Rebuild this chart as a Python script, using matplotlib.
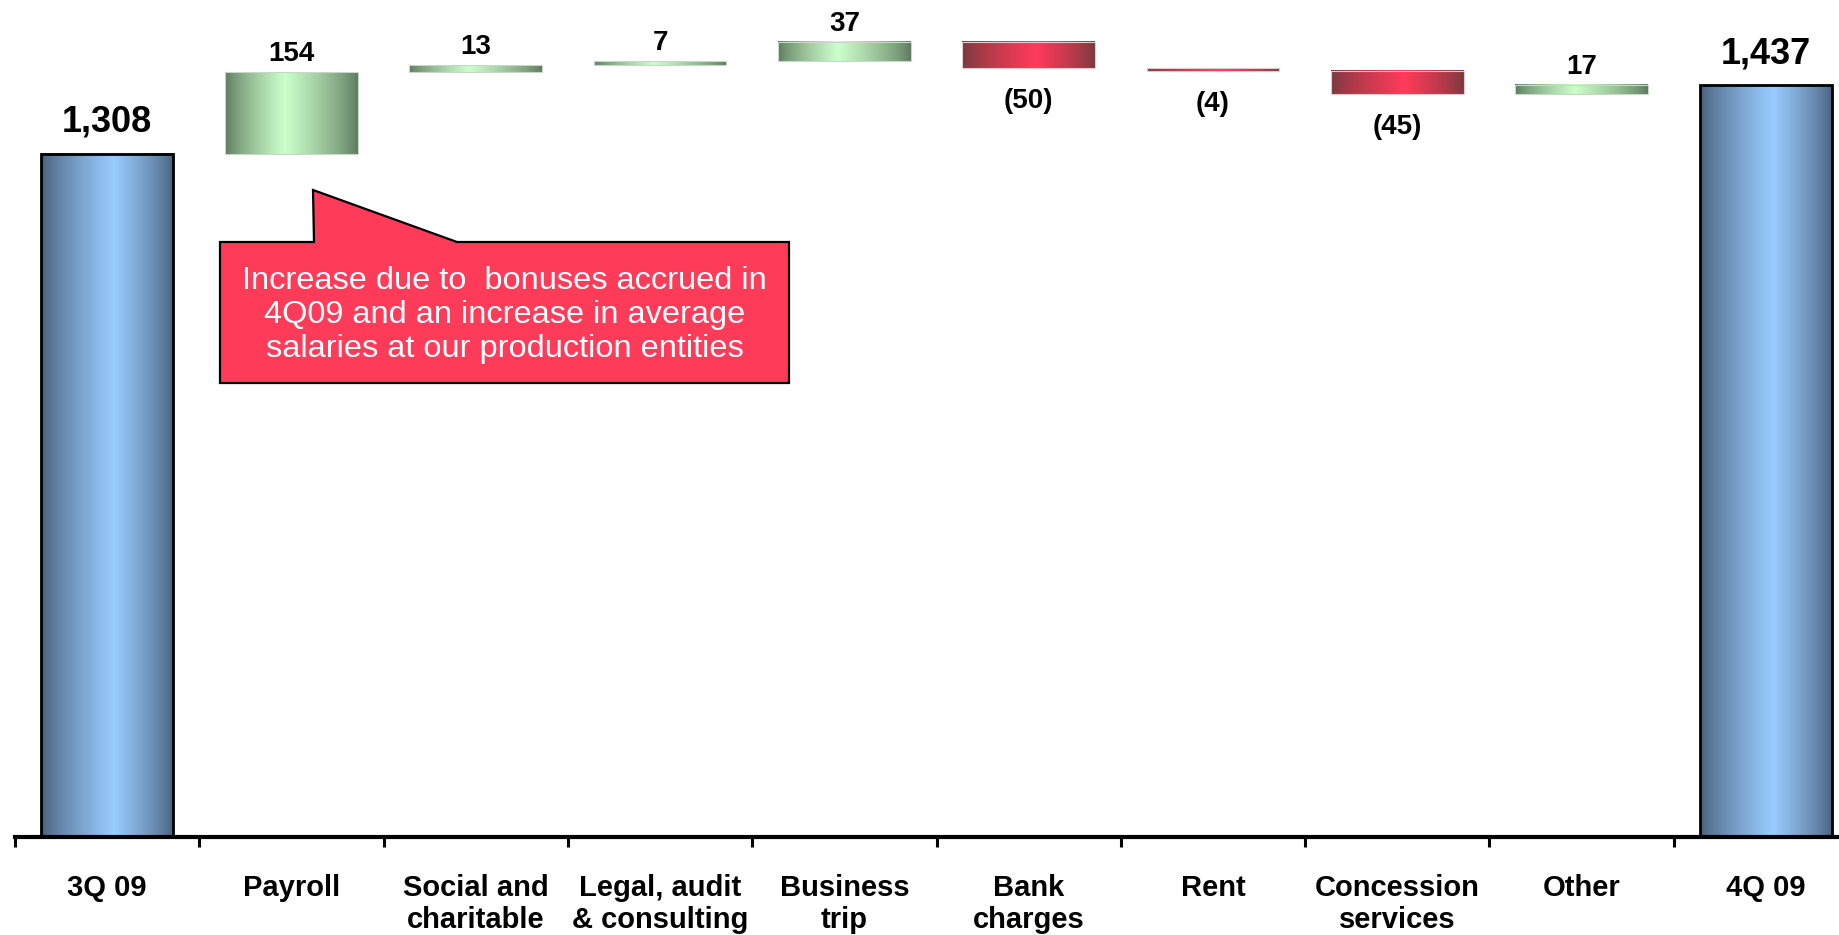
import numpy as np
import matplotlib
matplotlib.use("Agg")
import matplotlib.pyplot as plt
from matplotlib.patches import Polygon

# waterfall: opening total, changes, closing total
categories = ["3Q 09", "Payroll", "Social and\ncharitable", "Legal, audit\n& consulting",
              "Business\ntrip", "Bank\ncharges", "Rent", "Concession\nservices", "Other", "4Q 09"]
opening = 1308
changes = [154, 13, 7, 37, -50, -4, -45, 17]
closing = 1437
note = "Increase due to  bonuses accrued in\n4Q09 and an increase in average\nsalaries at our production entities"

W, H = 1839, 935
fig = plt.figure(figsize=(W / 100, H / 100), dpi=100)
ax = fig.add_axes([15 / W, (H - 837) / H, (W - 15) / W, 837 / H])

# running totals -> bar bottoms and heights
running = opening + np.concatenate([[0], np.cumsum(changes)])
bottoms = [0]
heights = [opening]
for prev, d in zip(running[:-1], changes):
    bottoms.append(prev if d >= 0 else prev + d)
    heights.append(abs(d))
bottoms.append(0)
heights.append(closing)

x = np.arange(len(categories))
bars = ax.bar(x, heights, bottom=bottoms, width=0.72, color="none", zorder=3)


def gradient(edge, mid, peak, n=256):
    t = np.linspace(0, 1, n)
    w = np.where(t < peak, t / peak, (1 - t) / (1 - peak)) ** 0.75
    edge = np.array(matplotlib.colors.to_rgb(edge))
    mid = np.array(matplotlib.colors.to_rgb(mid))
    return (edge + (mid - edge) * w[:, None])[None, :, :]


blue = gradient("#465c78", "#99ccff", 0.55)
green = gradient("#5c775c", "#ccffcc", 0.45)
red = gradient("#743a3e", "#ff3b5a", 0.55)

for i, bar in enumerate(bars):
    x0, y0 = bar.get_x(), bar.get_y()
    x1, y1 = x0 + bar.get_width(), y0 + bar.get_height()
    if i == 0 or i == len(bars) - 1:
        img, ec, lw = blue, "black", 2.0
    elif changes[i - 1] >= 0:
        img, ec, lw = green, "#c8d8c8", 0.8
    else:
        img, ec, lw = red, "#e8c8cc", 0.8
    ax.imshow(img, extent=[x0, x1, y0, y1], aspect="auto", interpolation="bilinear", zorder=2)
    bar.set_edgecolor(ec)
    bar.set_linewidth(lw)

# value labels
small = dict(fontsize=20, fontweight="bold", family="Liberation Sans", ha="center")
for i, d in enumerate(changes, start=1):
    bar = bars[i]
    cx = bar.get_x() + bar.get_width() / 2
    if d >= 0:
        ax.annotate(f"{d}", (cx, bar.get_y() + bar.get_height()), xytext=(0, 11),
                    textcoords="offset pixels", va="baseline", **small)
    else:
        ax.annotate(f"({-d})", (cx, bar.get_y()), xytext=(0, -20),
                    textcoords="offset pixels", va="top", **small)

for i, val in [(0, opening), (len(bars) - 1, closing)]:
    bar = bars[i]
    ax.annotate(f"{val:,}", (bar.get_x() + bar.get_width() / 2, val), xytext=(0, 22),
                textcoords="offset pixels", ha="center", va="baseline",
                fontsize=26, fontweight="bold", family="Liberation Sans")

ax.set_xlim(-0.5, -0.5 + (W - 15) / 184.3)
ax.set_ylim(19, 1598)

for s in ["top", "right", "left"]:
    ax.spines[s].set_visible(False)
ax.spines["bottom"].set_linewidth(3)
ax.spines["bottom"].set_zorder(4)
ax.set_yticks([])
ax.set_xticks(x)
ax.set_xticklabels(categories, fontsize=21, fontweight="bold", family="Liberation Sans",
                   linespacing=1.17)
ax.set_xticks(np.arange(-0.5, len(categories) - 0.5, 1), minor=True)
ax.tick_params(axis="x", which="major", length=0, pad=27)
ax.tick_params(axis="x", which="minor", length=7, width=2.2, direction="out")

# callout for payroll
pts = [(220, 242), (314, 242), (313, 190), (457, 242), (789, 242), (789, 383), (220, 383)]
poly = Polygon([(px / W, 1 - py / H) for px, py in pts], closed=True, transform=fig.transFigure,
               facecolor="#ff3b5a", edgecolor="black", linewidth=1.6, zorder=5)
fig.patches.append(poly)
fig.text(504.5 / W, 1 - 315 / H, note, ha="center", va="center", color="white",
         fontsize=23.4, family="Liberation Sans", linespacing=1.18, zorder=6)

fig.savefig("out.png", dpi=100)
